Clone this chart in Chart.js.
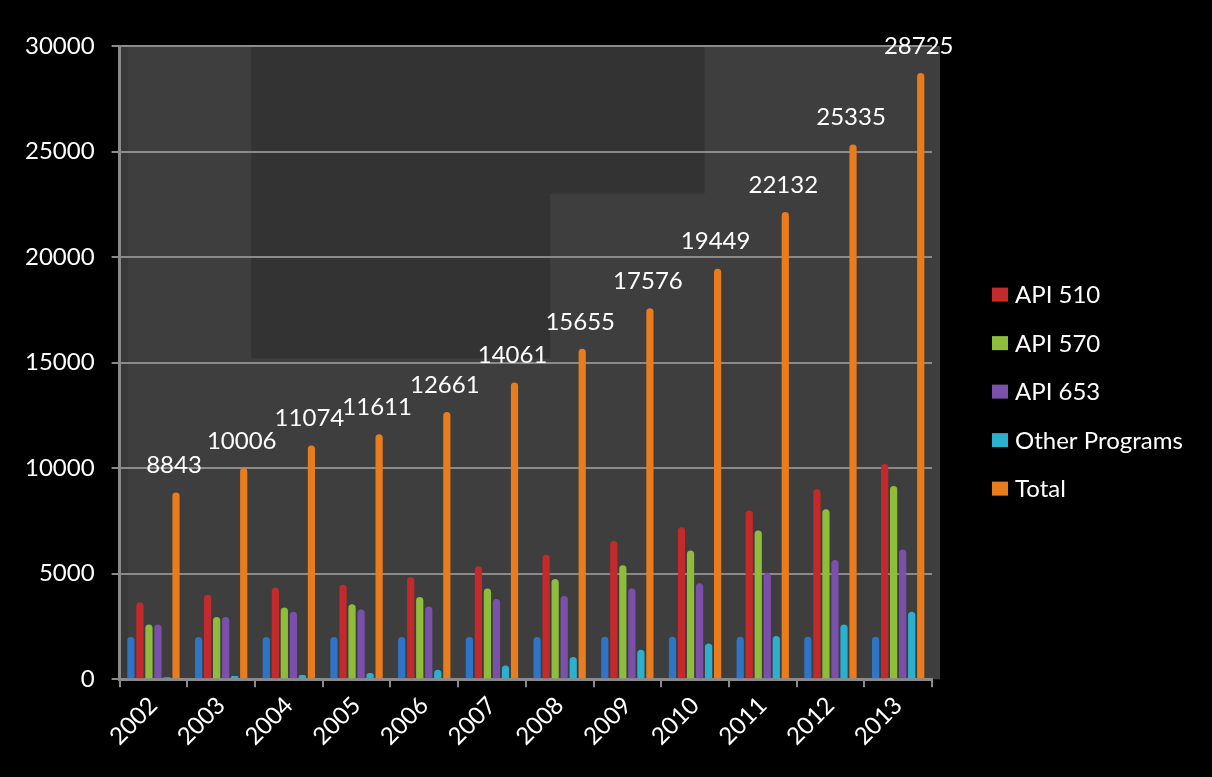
<!DOCTYPE html>
<html>
<head>
<meta charset="utf-8">
<script src="https://cdn.jsdelivr.net/npm/chart.js@4/dist/chart.umd.min.js"></script>
<style>
  html, body { margin: 0; padding: 0; background: #000; }
  #wrap { width: 1212px; height: 777px; }
</style>
</head>
<body>
<div id="wrap"><canvas id="grafico"></canvas></div>
<script>
// valores
const anios = ['2002', '2003', '2004', '2005', '2006', '2007', '2008', '2009', '2010', '2011', '2012', '2013'];
const serieAnio = [2002, 2003, 2004, 2005, 2006, 2007, 2008, 2009, 2010, 2011, 2012, 2013];
const api510 = [3650, 4000, 4350, 4480, 4850, 5350, 5900, 6550, 7200, 8000, 9000, 10200];
const api570 = [2600, 2950, 3400, 3550, 3900, 4300, 4750, 5400, 6100, 7050, 8050, 9150];
const api653 = [2600, 2950, 3200, 3300, 3450, 3800, 3950, 4300, 4550, 5050, 5650, 6150];
const otros = [100, 150, 200, 300, 450, 650, 1050, 1400, 1700, 2050, 2600, 3200];
const total = [8843, 10006, 11074, 11611, 12661, 14061, 15655, 17576, 19449, 22132, 25335, 28725];
const ticksY = [0, 5000, 10000, 15000, 20000, 25000, 30000];

const fuente = 'Lato, "Open Sans", sans-serif';
const gris = '#8a8a8a';

// fondo del area del grafico (pared gris con zonas mas oscuras)
const fondoPlot = {
  id: 'fondoPlot',
  beforeDraw(chart) {
    const { ctx, chartArea: a, scales } = chart;
    const w = a.right - a.left;
    ctx.save();
    ctx.fillStyle = '#3e3e3e';
    ctx.fillRect(a.left, a.top, w + 8, a.bottom - a.top);
    ctx.fillStyle = '#333333';
    const x1 = a.left + w * 0.162, x2 = a.left + w * 0.72, x3 = a.left + w * 0.53;
    const y1 = scales.y.getPixelForValue(23000);
    const y2 = scales.y.getPixelForValue(15200);
    ctx.fillRect(x1, a.top, x2 - x1, y1 - a.top);
    ctx.fillRect(x1, y1, x3 - x1, y2 - y1);
    ctx.fillStyle = '#383838';
    ctx.fillRect(a.left, a.top, 8, a.bottom - a.top);
    ctx.restore();
  }
};

// etiquetas encima de las barras del total
const etiquetasTotal = {
  id: 'etiquetasTotal',
  afterDatasetsDraw(chart) {
    const { ctx } = chart;
    const meta = chart.getDatasetMeta(5);
    ctx.save();
    ctx.fillStyle = '#ffffff';
    ctx.font = '24px ' + fuente;
    ctx.textAlign = 'center';
    ctx.textBaseline = 'middle';
    meta.data.forEach((bar, i) => {
      ctx.fillText(String(total[i]), bar.x - 2, bar.y - 27);
    });
    ctx.restore();
  }
};

// leyenda a la derecha (sin la serie de los años)
const leyenda = {
  id: 'leyenda',
  afterDraw(chart) {
    const { ctx } = chart;
    const items = chart.data.datasets.slice(1);
    const x = chart.chartArea.right + 60;
    const y0 = (chart.chartArea.top + chart.chartArea.bottom) / 2 + 29 - 48.5 * (items.length - 1) / 2;
    ctx.save();
    ctx.font = '24px ' + fuente;
    ctx.textBaseline = 'middle';
    items.forEach((ds, i) => {
      const y = y0 + i * 48.5;
      ctx.fillStyle = ds.backgroundColor;
      ctx.fillRect(x, y - 7, 16, 14);
      ctx.fillStyle = '#ffffff';
      ctx.fillText(ds.label, x + 23, y + 1);
    });
    ctx.restore();
  }
};

const colores = ['#2f74c6', '#c4292b', '#8dbd3b', '#7b50ab', '#2bb1cd', '#e97c1c'];
const nombres = ['Año', 'API 510', 'API 570', 'API 653', 'Other Programs', 'Total'];
const series = [serieAnio, api510, api570, api653, otros, total];

const datasets = series.map((d, i) => ({
  label: nombres[i],
  data: d,
  backgroundColor: colores[i],
  borderColor: colores[i],
  borderWidth: 0,
  borderRadius: { topLeft: 4, topRight: 4 },
  borderSkipped: 'bottom',
  categoryPercentage: 0.8,
  barPercentage: 0.8
}));

new Chart(document.getElementById('grafico'), {
  type: 'bar',
  data: { labels: anios, datasets: datasets },
  options: {
    responsive: true,
    maintainAspectRatio: false,
    animation: false,
    layout: { padding: { left: 8, right: 280, top: 46, bottom: 22 } },
    scales: {
      x: {
        grid: { drawOnChartArea: false, drawTicks: true, tickLength: 8, color: gris, lineWidth: 2 },
        border: { color: gris, width: 3 },
        ticks: { color: '#ffffff', maxRotation: 45, minRotation: 45, padding: 4, font: { family: fuente, size: 24 } }
      },
      y: {
        min: 0,
        max: 30000,
        afterBuildTicks(axis) { axis.ticks = ticksY.map(v => ({ value: v })); },
        grid: { color: gris, lineWidth: 2, tickLength: 8 },
        border: { color: gris, width: 3 },
        ticks: { color: '#ffffff', padding: 17, font: { family: fuente, size: 24 }, callback: v => String(v) }
      }
    },
    plugins: {
      legend: { display: false },
      tooltip: { enabled: false }
    }
  },
  plugins: [fondoPlot, etiquetasTotal, leyenda]
});
</script>
</body>
</html>
